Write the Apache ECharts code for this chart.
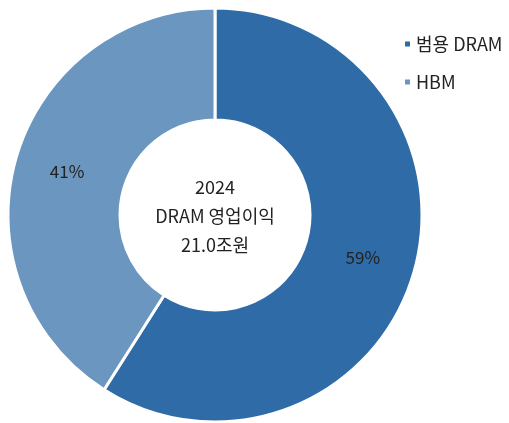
<!DOCTYPE html>
<html>
<head>
<meta charset="utf-8">
<script src="https://cdn.jsdelivr.net/npm/echarts@6/dist/echarts.min.js"></script>
<style>
    html, body { margin: 0; padding: 0; background: #fff; }
    #chart { width: 509px; height: 423px; }
</style>
</head>
<body>
<div id="chart"></div>
<script>
    var categories = ['범용 DRAM', 'HBM'];
    var shares = [59, 41];
    var colors = ['#2e6ba7', '#6b96c0'];
    var centerLines = ['2024', 'DRAM 영업이익', '21.0조원'];

    var fontFamily = '"Noto Sans CJK KR", "Noto Sans", sans-serif';

    var chart = echarts.init(document.getElementById('chart'));
    chart.setOption({
        color: colors,
        legend: {
            orient: 'vertical',
            left: 398,
            top: 30,
            itemWidth: 7,
            itemHeight: 7,
            itemGap: 20,
            icon: 'rect',
            textStyle: { fontFamily: fontFamily, fontSize: 18, color: '#222' },
            data: categories
        },
        graphic: [{
            type: 'text',
            x: 215,
            y: 173,
            style: {
                text: centerLines.join('\n'),
                align: 'center',
                verticalAlign: 'top',
                fontFamily: fontFamily,
                fontSize: 18,
                lineHeight: 29,
                fill: '#222'
            }
        }],
        series: [{
            name: 'DRAM 영업이익',
            type: 'pie',
            center: [215, 215],
            radius: [95, 207],
            startAngle: 90,
            clockwise: true,
            avoidLabelOverlap: false,
            itemStyle: { borderColor: '#fff', borderWidth: 3 },
            label: {
                show: true,
                position: 'inside',
                formatter: '{c}%',
                fontFamily: fontFamily,
                fontSize: 17,
                color: '#222'
            },
            labelLine: { show: false },
            emphasis: { disabled: true },
            data: categories.map(function (name, i) {
                return { name: name, value: shares[i] };
            })
        }]
    });
</script>
</body>
</html>
